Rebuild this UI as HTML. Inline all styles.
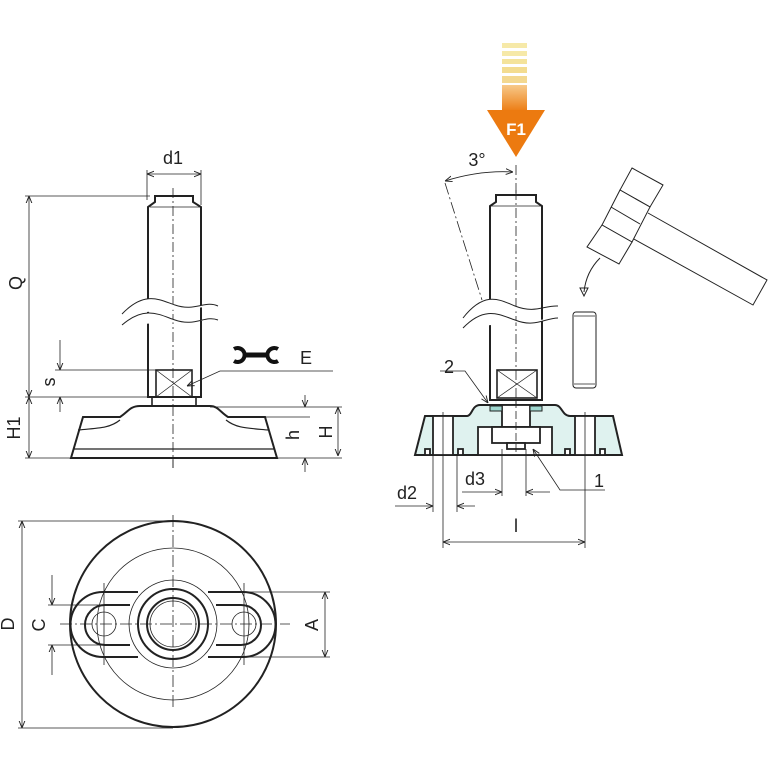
<!DOCTYPE html>
<html><head><meta charset="utf-8"><style>
html,body{margin:0;padding:0;background:#fff}
svg{display:block}
text{font-family:"Liberation Sans",sans-serif;fill:#222}
</style></head><body>
<svg width="768" height="768" viewBox="0 0 768 768" xmlns="http://www.w3.org/2000/svg">
<defs>
<marker id="a" viewBox="0 0 10 10" refX="10" refY="5" markerWidth="9" markerHeight="9" orient="auto-start-reverse"><path d="M0,1 L10,5 L0,9" fill="none" stroke="#222" stroke-width="1.3"/></marker>
<linearGradient id="og" x1="0" y1="0" x2="0" y2="1"><stop offset="0" stop-color="#f7c98a"/><stop offset="1" stop-color="#ec7a10"/></linearGradient>
</defs>
<g stroke="#222" fill="none">
<!-- LEFT ELEVATION -->
<path d="M155 196 H193 V202 L201 207 V397 H148 V207 L155 202 Z" stroke-width="2" fill="#fff"/>
<line x1="150" y1="207" x2="200" y2="207" stroke-width="0.8"/>
<line x1="173" y1="188" x2="173" y2="468" stroke-width="0.8" stroke-dasharray="10,3,2,3"/>
<rect x="156" y="370" width="36" height="27" stroke-width="1.6"/>
<path d="M156 370 L192 397 M192 370 L156 397" stroke-width="0.7"/>
<path d="M152 397 V406 M196 397 V406" stroke-width="1.6"/>
<path d="M122 314 C145 290,160 300,175 305 C195 312,205 300,218 306 M122 325 C145 305,160 315,175 320 C195 327,205 315,218 320" stroke-width="1" fill="#fff"/>
<path d="M140 406 H210 C218 406,220 412,228 417 L265 417 L277 458 H71 L83 417 L120 417 C128 412,130 406,140 406 Z" stroke-width="2" fill="#fff"/>
<path d="M78 430 C100 428,110 428,120 420 M268 430 C246 428,236 428,226 420" stroke-width="1.2"/>
<line x1="73" y1="449" x2="275" y2="449" stroke-width="1.2"/>
<line x1="173" y1="406" x2="173" y2="468" stroke-width="0.8" stroke-dasharray="10,3,2,3"/>
<!-- dims left -->
<g stroke-width="0.8">
<line x1="147" y1="170" x2="147" y2="200"/><line x1="201" y1="170" x2="201" y2="205"/>
<line x1="147" y1="174" x2="201" y2="174" marker-start="url(#a)" marker-end="url(#a)"/>
<line x1="25" y1="196" x2="150" y2="196"/>
<line x1="29" y1="196" x2="29" y2="397" marker-start="url(#a)" marker-end="url(#a)"/>
<line x1="25" y1="397" x2="150" y2="397"/>
<line x1="29" y1="397" x2="29" y2="458" marker-start="url(#a)" marker-end="url(#a)"/>
<line x1="25" y1="458" x2="71" y2="458"/>
<line x1="55" y1="370" x2="156" y2="370"/>
<line x1="60" y1="340" x2="60" y2="370" marker-end="url(#a)"/>
<line x1="60" y1="412" x2="60" y2="397" marker-end="url(#a)"/>
<line x1="210" y1="407" x2="342" y2="407"/>
<line x1="265" y1="417" x2="310" y2="417"/>
<line x1="277" y1="458" x2="342" y2="458"/>
<line x1="305" y1="395" x2="305" y2="407" marker-end="url(#a)"/>
<line x1="305" y1="472" x2="305" y2="458" marker-end="url(#a)"/>
<line x1="338" y1="407" x2="338" y2="456" marker-start="url(#a)" marker-end="url(#a)"/>
<path d="M333 371 H220 L187 386" marker-end="url(#a)"/>
</g>
<!-- BOTTOM VIEW -->
<circle cx="173" cy="624" r="103" stroke-width="2"/>
<circle cx="173" cy="624" r="76" stroke-width="0.8"/>
<circle cx="173" cy="624" r="44" stroke-width="0.8"/>
<circle cx="173" cy="624" r="35" stroke-width="2"/>
<circle cx="173" cy="624" r="26" stroke-width="2"/>
<circle cx="173" cy="624" r="23" stroke-width="0.8"/>
<path d="M138 592 H103 A32 32 0 0 0 103 657 H138" stroke-width="2"/>
<path d="M130 605 H105 A19 19 0 0 0 105 645 H130" stroke-width="2"/>
<path d="M208 592 H243 A32 32 0 0 1 243 657 H208" stroke-width="2"/>
<path d="M216 605 H241 A19 19 0 0 1 241 645 H216" stroke-width="2"/>
<circle cx="104" cy="624" r="12" stroke-width="0.8"/>
<circle cx="244" cy="624" r="12" stroke-width="0.8"/>
<g stroke-width="0.8">
<line x1="173" y1="515" x2="173" y2="710" stroke-dasharray="12,3,2,3"/>
<line x1="60" y1="624" x2="290" y2="624" stroke-dasharray="12,3,2,3"/>
<line x1="104" y1="583" x2="104" y2="665"/><line x1="244" y1="583" x2="244" y2="665"/>
<line x1="18" y1="521" x2="173" y2="521"/><line x1="18" y1="728" x2="173" y2="728"/>
<line x1="22" y1="521" x2="22" y2="728" marker-start="url(#a)" marker-end="url(#a)"/>
<line x1="48" y1="605" x2="105" y2="605"/><line x1="48" y1="645" x2="105" y2="645"/>
<line x1="52" y1="575" x2="52" y2="605" marker-end="url(#a)"/>
<line x1="52" y1="675" x2="52" y2="645" marker-end="url(#a)"/>
<line x1="243" y1="592" x2="330" y2="592"/><line x1="243" y1="657" x2="330" y2="657"/>
<line x1="325" y1="592" x2="325" y2="657" marker-start="url(#a)" marker-end="url(#a)"/>
</g>
<!-- RIGHT VIEW -->
<line x1="516" y1="165" x2="516" y2="455" stroke-width="0.8" stroke-dasharray="10,3,2,3"/>
<path d="M496 195 H536 V202 L542 206 V400 H490 V206 L496 202 Z" stroke-width="2" fill="#fff"/>
<line x1="491" y1="206" x2="541" y2="206" stroke-width="0.8"/>
<line x1="516" y1="190" x2="516" y2="398" stroke-width="0.8" stroke-dasharray="10,3,2,3"/>
<rect x="497" y="370" width="40" height="28" stroke-width="1.6"/>
<path d="M497 370 L537 398 M537 370 L497 398" stroke-width="0.7"/>
<path d="M463 318 C485 290,500 300,515 306 C535 314,545 305,558 306 M463 328 C485 305,500 315,515 320 C535 328,545 318,558 318" stroke-width="1" fill="#fff"/>
<path d="M445 183 L482 300" stroke-width="0.8" stroke-dasharray="12,3,2,3"/>
<path d="M445 181 Q480 170 513 172" stroke-width="0.8" marker-start="url(#a)" marker-end="url(#a)"/>
<!-- base section -->
<path d="M415 455 L425 416 H467 C472 416,472 405,480 405 H555 C562 405,562 416,570 416 H613 L622 455 Z" fill="#dff2ef" stroke-width="2"/>
<g fill="#fff" stroke-width="1.8">
<rect x="433" y="416" width="20" height="39"/>
<rect x="575" y="416" width="20" height="39"/>
<rect x="478" y="427" width="74" height="28"/>
<rect x="502" y="405" width="28" height="22"/>
<rect x="492" y="427" width="48" height="16"/>
<rect x="507" y="443" width="18" height="6"/>
<rect x="425" y="449" width="5" height="6"/><rect x="458" y="449" width="5" height="6"/>
<rect x="565" y="449" width="5" height="6"/><rect x="600" y="449" width="5" height="6"/>
</g>
<rect x="490" y="406" width="12" height="5" fill="#9fd8d0" stroke-width="1"/>
<rect x="530" y="406" width="12" height="5" fill="#9fd8d0" stroke-width="1"/>
<line x1="516" y1="400" x2="516" y2="455" stroke-width="0.8" stroke-dasharray="8,3"/>
<line x1="443" y1="412" x2="443" y2="548" stroke-width="0.8"/>
<line x1="585" y1="412" x2="585" y2="548" stroke-width="0.8"/>
<g stroke-width="0.8">
<line x1="433" y1="455" x2="433" y2="512"/><line x1="457" y1="455" x2="457" y2="512"/>
<line x1="502" y1="449" x2="502" y2="496"/><line x1="526" y1="449" x2="526" y2="496"/>
<line x1="395" y1="506" x2="433" y2="506" marker-end="url(#a)"/>
<line x1="475" y1="506" x2="457" y2="506" marker-end="url(#a)"/>
<line x1="462" y1="492" x2="502" y2="492" marker-end="url(#a)"/>
<line x1="550" y1="492" x2="526" y2="492" marker-end="url(#a)"/>
<line x1="443" y1="542" x2="585" y2="542" marker-start="url(#a)" marker-end="url(#a)"/>
<path d="M440 371 H465 L488 403" marker-end="url(#a)"/>
<path d="M605 490 H560 L533 449" marker-end="url(#a)"/>
</g>
<!-- pin -->
<rect x="573" y="312" width="23" height="76" rx="3" stroke-width="1"/>
<line x1="574" y1="316" x2="595" y2="316" stroke-width="0.7"/><line x1="574" y1="384" x2="595" y2="384" stroke-width="0.7"/>
<!-- hammer -->
<g stroke-width="1">
<path d="M648 213 L767 280 L753 305 L632 238" fill="#fff"/>
<path d="M632 168 L663 185 L650 207 L620 190 Z" fill="#fff"/>
<path d="M620 190 L650 207 L632 242 L602 225 Z" fill="#fff"/>
<path d="M611 207 L640 224"/>
<path d="M602 225 L632 242 L619 264 L587 247 Z" fill="#fff"/>
<path d="M600 258 Q586 272 584 292"/>
<path d="M580 288 L584 296 L588 288 Z"/>
</g>
<!-- wrench -->
<line x1="243" y1="355" x2="269" y2="355" stroke="#111" stroke-width="5"/>
<path d="M234 349 A7 7 0 1 1 234 361" stroke="#111" stroke-width="4"/>
<path d="M278 349 A7 7 0 1 0 278 361" stroke="#111" stroke-width="4"/>
</g>
<!-- F1 arrow -->
<g>
<rect x="502" y="43" width="25" height="5" fill="#f6e9a8"/>
<rect x="502" y="51" width="25" height="5" fill="#f6e9a8"/>
<rect x="502" y="59" width="25" height="5" fill="#f4e39b"/>
<rect x="502" y="67" width="25" height="6" fill="#f3dc90"/>
<rect x="502" y="76" width="25" height="7" fill="#f3d890"/>
<rect x="502" y="85" width="25" height="27" fill="url(#og)"/>
<path d="M487 110 L545 110 L516 157 Z" fill="#ec7a10"/>
<text x="516" y="135" font-size="17" font-weight="bold" text-anchor="middle" style="fill:#fff">F1</text>
</g>
<!-- labels -->
<g font-size="18">
<text x="173" y="164" text-anchor="middle">d1</text>
<text x="22" y="283" transform="rotate(-90 22 283)" text-anchor="middle">Q</text>
<text x="55" y="382" transform="rotate(-90 55 382)" text-anchor="middle">s</text>
<text x="20" y="428" transform="rotate(-90 20 428)" text-anchor="middle">H1</text>
<text x="299" y="435" transform="rotate(-90 299 435)" text-anchor="middle">h</text>
<text x="332" y="432" transform="rotate(-90 332 432)" text-anchor="middle">H</text>
<text x="306" y="364" text-anchor="middle">E</text>
<text x="14" y="624" transform="rotate(-90 14 624)" text-anchor="middle">D</text>
<text x="45" y="625" transform="rotate(-90 45 625)" text-anchor="middle">C</text>
<text x="318" y="625" transform="rotate(-90 318 625)" text-anchor="middle">A</text>
<text x="477" y="166" text-anchor="middle">3°</text>
<text x="449" y="373" text-anchor="middle">2</text>
<text x="599" y="487" text-anchor="middle">1</text>
<text x="475" y="485" text-anchor="middle">d3</text>
<text x="407" y="499" text-anchor="middle">d2</text>
<text x="516" y="532" text-anchor="middle">l</text>
</g>
</svg>
</body></html>
